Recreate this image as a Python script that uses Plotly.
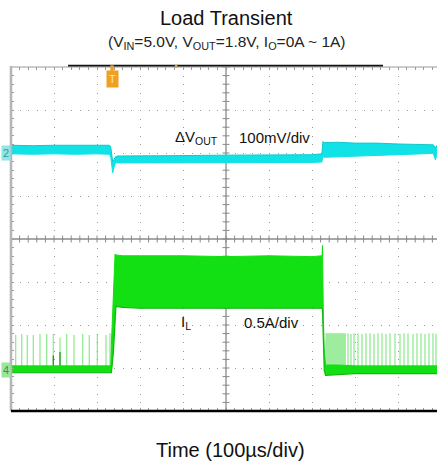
import plotly.graph_objects as go

# ---------------- data (read from the scope capture) ----------------
# time in microseconds, 100 us/div
x_range_us = [0, 990.7]

# CH2: output voltage deviation (mV), 100 mV/div
vout_t = [0, 50, 100, 150, 200, 229, 232, 234.5, 236.5, 239, 243, 247, 300, 400, 500,
          600, 700, 723, 724.4, 725.5, 728, 760, 800, 850, 900, 950, 982, 987, 990.7]
vout_upper = [18, 17, 18, 18, 17, 18, 14, -5, -20, -16, -9, -7, -7, -6, -5,
              -5, -4, -2, 24, 27, 24, 25, 23, 23, 21, 20, 19, 12, 18]
vout_lower = [-2, -3, -2, -3, -2, -3, -10, -35, -46, -35, -22, -23, -23, -23, -22,
              -22, -22, -21, -15, -8, -10, -9, -7, -6, -4, -2, -1, -16, -3]

# CH4: inductor current (A), 0.5 A/div
il_t = [0, 100, 200, 232, 233.5, 238, 242, 244, 260, 300, 400, 500, 600, 700, 722,
        723.5, 724.4, 725.2, 726.5, 728.5, 731.5, 760, 800, 850, 900, 950, 990.7]
il_upper = [0.05, 0.05, 0.05, 0.05, 0.3, 1.0, 1.35, 1.34, 1.33, 1.33, 1.33, 1.32, 1.33, 1.32, 1.33,
            1.33, 1.45, 1.0, 0.6, 0.25, 0.06, 0.06, 0.05, 0.05, 0.05, 0.05, 0.05]
il_lower = [-0.03, -0.03, -0.03, -0.03, -0.03, 0.2, 0.55, 0.74, 0.73, 0.72, 0.72, 0.72, 0.72, 0.72, 0.72,
            0.72, 0.7, 0.5, 0.25, 0.0, -0.06, -0.05, -0.04, -0.04, -0.04, -0.04, -0.04]

# light-load burst region right after unloading
burst_t = [731, 779]
burst_peak = 0.43
burst_base = -0.03

# light-load switching pulses (PFM)
pre_pulse_t = [10.9, 24.9, 37.9, 51.9, 67.4, 83.0, 98.4, 114.0, 129.5, 146.5,
               166.7, 182.1, 200.7, 220.9, 230.2]
pre_pulse_peak = [0.41, 0.42, 0.41, 0.41, 0.42, 0.42, 0.42, 0.38, 0.42, 0.41,
                  0.42, 0.41, 0.42, 0.41, 0.43]
post_pulse_t = [783.7, 790.7, 797.7, 807.0, 816.3, 825.6, 834.9, 844.2, 853.5, 862.8,
                872.1, 881.4, 893.0, 904.7, 914.0, 923.3, 934.9, 944.2, 953.5, 962.8,
                972.1, 981.4, 988.4]
post_pulse_peak = [0.43, 0.42, 0.43, 0.43, 0.42, 0.43, 0.43, 0.42, 0.43, 0.43,
                   0.42, 0.43, 0.43, 0.42, 0.43, 0.43, 0.42, 0.43, 0.43, 0.42,
                   0.43, 0.43, 0.42]
dark_pulse_t = [98.4, 114.0]
dark_pulse_peak = [0.17, 0.21]
pulse_base = 0.02

# channel settings
ch2_mv_per_div = 100
ch2_offset_div = 2.0
ch4_a_per_div = 0.5
ch4_offset_div = -3.05

trigger_t = 235
record_bar_t = [132.6, 865.1]

# ---------------- figure ----------------
CYAN = "#10e2e6"
GREEN = "#12e012"
GRID = "#9a9a9a"
FONT = "Arial, 'Liberation Sans', sans-serif"

fig = go.Figure()

# CH2 band
fig.add_trace(go.Scatter(x=vout_t, y=vout_upper, yaxis="y2", mode="lines",
                         line=dict(color="#12c8cc", width=1), hoverinfo="skip", showlegend=False))
fig.add_trace(go.Scatter(x=vout_t, y=vout_lower, yaxis="y2", mode="lines", fill="tonexty",
                         fillcolor=CYAN, line=dict(color=CYAN, width=1), hoverinfo="skip",
                         showlegend=False))

# CH4 pulses
def seg(ts, peaks):
    xs, ys = [], []
    for t, p in zip(ts, peaks):
        xs += [t, t, None]
        ys += [pulse_base, p, None]
    return xs, ys

px, py = seg(pre_pulse_t + post_pulse_t, pre_pulse_peak + post_pulse_peak)
fig.add_trace(go.Scatter(x=px, y=py, yaxis="y3", mode="lines",
                         line=dict(color="rgba(40,215,40,0.5)", width=1.3),
                         hoverinfo="skip", showlegend=False))
dx, dy = seg(dark_pulse_t, dark_pulse_peak)
fig.add_trace(go.Scatter(x=dx, y=dy, yaxis="y3", mode="lines",
                         line=dict(color="#0a9a0a", width=1.2),
                         hoverinfo="skip", showlegend=False))

# burst block
fig.add_trace(go.Scatter(x=[burst_t[0], burst_t[1], burst_t[1], burst_t[0], burst_t[0]],
                         y=[burst_base, burst_base, burst_peak, burst_peak, burst_base],
                         yaxis="y3", mode="lines", fill="toself",
                         fillcolor="rgba(40,215,40,0.45)", line=dict(width=0),
                         hoverinfo="skip", showlegend=False))

# CH4 band
fig.add_trace(go.Scatter(x=il_t, y=il_upper, yaxis="y3", mode="lines",
                         line=dict(color=GREEN, width=1), hoverinfo="skip", showlegend=False))
fig.add_trace(go.Scatter(x=il_t, y=il_lower, yaxis="y3", mode="lines", fill="tonexty",
                         fillcolor=GREEN, line=dict(color="#0fb80f", width=1.2), hoverinfo="skip",
                         showlegend=False))

# crosshair ticks
minor_x = [i * 20 for i in range(0, 50)]
minor_y = [-4 + i * 0.2 for i in range(0, 41)]
fig.add_trace(go.Scatter(x=minor_x, y=[0] * len(minor_x), mode="markers",
                         marker=dict(symbol="line-ns", size=5, line=dict(color="#8a8a8a", width=1)),
                         hoverinfo="skip", showlegend=False))
fig.add_trace(go.Scatter(x=[500] * len(minor_y), y=minor_y, mode="markers",
                         marker=dict(symbol="line-ew", size=5, line=dict(color="#8a8a8a", width=1)),
                         hoverinfo="skip", showlegend=False))

shapes = [
    dict(type="line", xref="x", yref="paper", x0=500, x1=500, y0=0, y1=1,
         line=dict(color="#8a8a8a", width=1.3), layer="below"),
    dict(type="line", xref="paper", yref="y", x0=0, x1=1, y0=0, y1=0,
         line=dict(color="#8a8a8a", width=1.3), layer="below"),
    dict(type="line", xref="paper", yref="paper", x0=0, x1=1, y0=1, y1=1,
         line=dict(color="#9a9a9a", width=1)),
    dict(type="line", xref="x", yref="paper", x0=record_bar_t[0], x1=record_bar_t[1],
         y0=1.004, y1=1.004, line=dict(color="#111111", width=1.8)),
    dict(type="line", xref="paper", yref="paper", x0=0, x1=0, y0=0, y1=1.003,
         line=dict(color="#b5b5b5", width=2.5)),
    dict(type="line", xref="paper", yref="paper", x0=0, x1=1, y0=0, y1=0,
         line=dict(color="#000000", width=2.5)),
    dict(type="rect", xref="x", yref="paper", x0=trigger_t - 4, x1=trigger_t + 4,
         y0=0.985, y1=1.005, fillcolor="#f0a020", line=dict(width=0)),
    dict(type="rect", xref="x", yref="paper", x0=381, x1=387,
         y0=0.998, y1=1.006, fillcolor="#f0a020", line=dict(width=0)),
]

annotations = [
    dict(text="Load Transient", xref="paper", yref="paper", x=0.507, y=1.142,
         xanchor="center", yanchor="middle", showarrow=False,
         font=dict(size=20, color="#111111", family=FONT)),
    dict(text="(V<sub>IN</sub>=5.0V, V<sub>OUT</sub>=1.8V, I<sub>O</sub>=0A ~ 1A)",
         xref="paper", yref="paper", x=0.507, y=1.072, xanchor="center", yanchor="middle",
         showarrow=False, font=dict(size=15.5, color="#222222", family=FONT)),
    dict(text="Time (100µs/div)", xref="paper", yref="paper", x=0.516, y=-0.113,
         xanchor="center", yanchor="middle", showarrow=False,
         font=dict(size=20, color="#111111", family=FONT)),
    dict(text="ΔV<sub>OUT</sub>", xref="x", yref="y", x=377, y=2.37, xanchor="left",
         yanchor="middle", showarrow=False, font=dict(size=15, color="#111111", family=FONT)),
    dict(text="100mV/div", xref="x", yref="y", x=526, y=2.37, xanchor="left",
         yanchor="middle", showarrow=False, font=dict(size=15, color="#111111", family=FONT)),
    dict(text="I<sub>L</sub>", xref="x", yref="y", x=391, y=-1.95, xanchor="left",
         yanchor="middle", showarrow=False, font=dict(size=15, color="#111111", family=FONT)),
    dict(text="0.5A/div", xref="x", yref="y", x=537, y=-1.95, xanchor="left",
         yanchor="middle", showarrow=False, font=dict(size=15, color="#111111", family=FONT)),
    dict(text="T", xref="x", yref="paper", x=trigger_t, y=0.966, xanchor="center",
         yanchor="middle", showarrow=False, bgcolor="#f0a020", borderpad=2,
         font=dict(size=11, color="#ffe6b0", family=FONT)),
    dict(text="2", xref="paper", yref="y", x=0, y=ch2_offset_div, xanchor="right",
         yanchor="middle", showarrow=False, bgcolor="#8fe6e6", borderpad=1,
         font=dict(size=11, color="#3a9a9a", family=FONT)),
    dict(text="4", xref="paper", yref="y", x=0, y=ch4_offset_div, xanchor="right",
         yanchor="middle", showarrow=False, bgcolor="#9ae69a", borderpad=1,
         font=dict(size=11, color="#4a8a4a", family=FONT)),
]

fig.update_layout(
    width=437, height=464,
    margin=dict(l=11, r=0, t=67, b=53),
    paper_bgcolor="white", plot_bgcolor="white",
    font=dict(family=FONT),
    shapes=shapes, annotations=annotations,
    xaxis=dict(range=x_range_us, showgrid=True, dtick=100, tick0=0, gridcolor=GRID,
               griddash="1px,7.6px", gridwidth=1, zeroline=False, showticklabels=False,
               showline=False, ticks="inside", ticklen=3, tickcolor="#9a9a9a", mirror="ticks",
               minor=dict(dtick=20, ticks="inside", ticklen=3, tickcolor="#9a9a9a", showgrid=False),
               fixedrange=True),
    yaxis=dict(range=[-4, 4], showgrid=True, dtick=1, tick0=0, gridcolor=GRID,
               griddash="1px,7.6px", gridwidth=1, zeroline=False, showticklabels=False,
               showline=False, ticks="inside", ticklen=3, tickcolor="#9a9a9a",
               minor=dict(dtick=0.2, ticks="inside", ticklen=3, tickcolor="#9a9a9a", showgrid=False),
               fixedrange=True),
    yaxis2=dict(overlaying="y",
                range=[(-4 - ch2_offset_div) * ch2_mv_per_div, (4 - ch2_offset_div) * ch2_mv_per_div],
                visible=False, fixedrange=True),
    yaxis3=dict(overlaying="y",
                range=[(-4 - ch4_offset_div) * ch4_a_per_div, (4 - ch4_offset_div) * ch4_a_per_div],
                visible=False, fixedrange=True),
    showlegend=False,
)

fig.write_html("out.html", config=dict(displayModeBar=False),
               post_script="document.body.style.margin='0';document.body.style.padding='0';")
